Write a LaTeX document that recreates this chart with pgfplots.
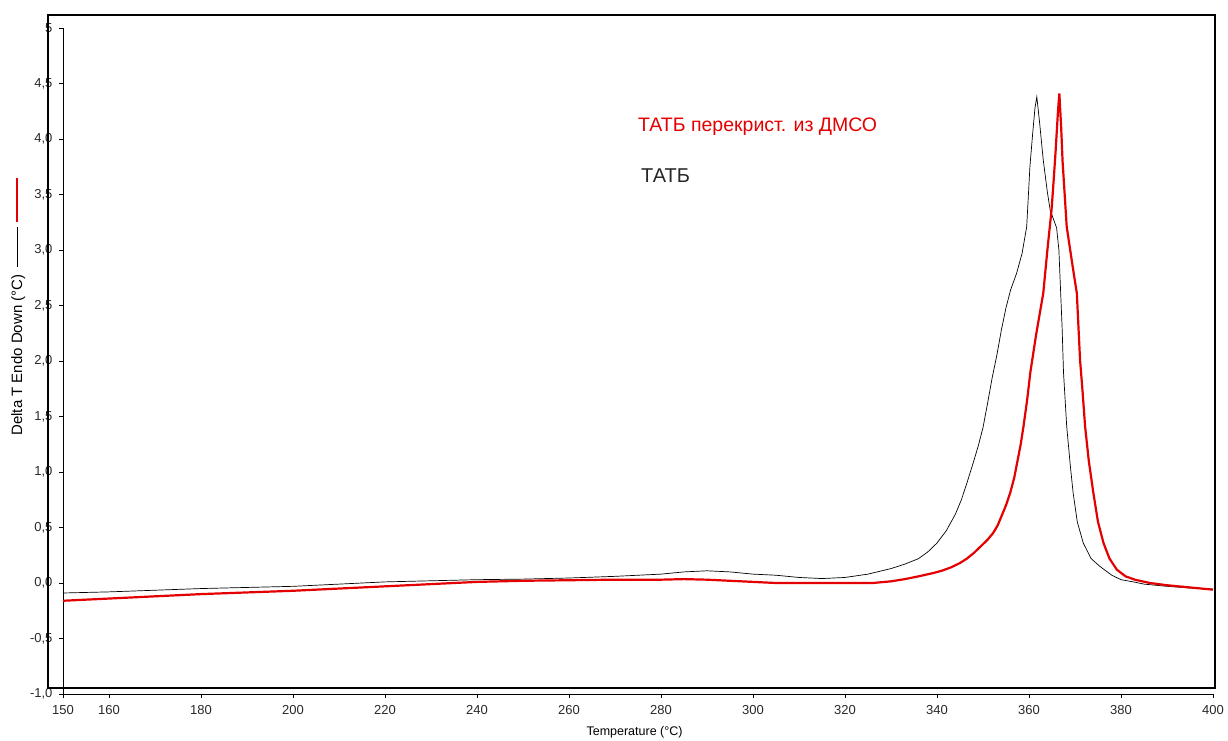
\documentclass[border=0pt]{standalone}
\usepackage{pgfplots}
\pgfplotsset{compat=1.18}
\usepackage{fontspec}
\setmainfont{Liberation Sans}
\definecolor{dscred}{RGB}{228,0,0}
\definecolor{tickgray}{RGB}{40,40,40}
\begin{document}
\begin{tikzpicture}
\path[use as bounding box] (0pt,0pt) rectangle (1228pt,740pt);
\begin{axis}[
  at={(63pt,46pt)}, anchor=south west,
  scale only axis, width=1150pt, height=666pt,
  xmin=150, xmax=400, ymin=-1, ymax=5,
  axis x line=bottom, axis y line=left,
  axis line style={-, line width=0.8pt},
  tick align=outside, major tick length=4pt,
  tick style={black, line width=0.8pt},
  xtick={150,160,180,200,220,240,260,280,300,320,340,360,380,400},
  ytick={-1,-0.5,0,0.5,1,1.5,2,2.5,3,3.5,4,4.5,5},
  yticklabels={{-1,0},{-0,5},{0,0},{0,5},{1,0},{1,5},{2,0},{2,5},{3,0},{3,5},{4,0},{4,5},5},
  xticklabels={150,160,180,200,220,240,260,280,300,320,340,360,380,400},
  tick label style={font=\fontsize{13}{15}\selectfont, text=tickgray},
  xticklabel style={yshift=-4pt},
  yticklabel style={xshift=-3pt},
  xlabel={Temperature (°C)},
  xlabel style={font=\fontsize{12.5}{14}\selectfont, at={(axis description cs:0.497,0)}, anchor=north, yshift=-29pt},
  ylabel={Delta T Endo Down (°C)},
  ylabel style={font=\fontsize{15}{17}\selectfont, at={(axis description cs:-0.039,0.509)}, anchor=center},
  clip=false,
]
\addplot[black, line width=0.7pt] coordinates {
(150,-0.09) (160,-0.08) (170,-0.065) (180,-0.05) (190,-0.04) (200,-0.03)
(210,-0.01) (220,0.01) (230,0.02) (240,0.03) (250,0.035) (260,0.045)
(270,0.06) (280,0.08) (285,0.1) (290,0.11) (295,0.1) (300,0.08)
(305,0.07) (310,0.05) (315,0.04) (320,0.05) (325,0.08) (330,0.13)
(333,0.17) (336,0.22) (338,0.28) (340,0.36) (342,0.47) (344,0.62) (345.3,0.75) (346.5,0.9)
(348,1.1) (349,1.24) (350,1.4) (351,1.62) (352,1.85) (353,2.05) (354,2.28) (355,2.48) (356,2.64) (357.3,2.79)
(358.5,2.97) (359.5,3.21) (360.2,3.75) (360.8,4.05) (361.3,4.28) (361.7,4.38) (362.3,4.15) (363.1,3.81) (364.0,3.52) (364.6,3.36) (365.3,3.28)
(366.0,3.2) (366.5,3.0) (366.8,2.7) (367.2,2.3) (367.5,1.9) (368.2,1.41)
(369.0,1.05) (369.6,0.81) (370.5,0.55) (371.8,0.36) (373.5,0.22) (375.4,0.15) (378,0.07)
(380,0.03) (382.7,0.01) (385,-0.01) (390,-0.03) (395,-0.045) (400,-0.055)
};
\addplot[dscred, line width=2.2pt] coordinates {
(150,-0.16) (160,-0.14) (170,-0.12) (180,-0.10) (190,-0.085) (200,-0.07)
(210,-0.05) (220,-0.03) (230,-0.01) (240,0.01) (250,0.02) (260,0.025)
(270,0.03) (280,0.03) (285,0.035) (290,0.03) (295,0.02) (300,0.01)
(305,0.0) (310,0.0) (320,0.0) (326,0.0) (330,0.015) (333,0.035)
(336,0.06) (339.2,0.09) (341,0.11) (343,0.14) (345,0.18) (346.5,0.22) (348,0.27) (349.5,0.33) (351,0.39) (352.2,0.45)
(353.2,0.52) (354,0.6) (355,0.7) (355.9,0.81) (356.8,0.95) (357.5,1.1) (358.2,1.25) (358.8,1.41) (359.6,1.65) (360.3,1.9) (361.6,2.25)
(363.1,2.61) (364.0,3.0) (364.9,3.36) (365.4,3.65) (365.8,3.9) (366.3,4.25) (366.6,4.41) (367.0,4.1) (367.3,3.8)
(368.2,3.21) (369.5,2.85) (370.4,2.61) (371.1,2.01) (371.6,1.75) (372.2,1.41)
(373,1.1) (374,0.81) (375,0.55) (376.2,0.36) (377.5,0.22) (379.1,0.12)
(381,0.06) (383,0.03) (386.3,0.0) (390,-0.02) (395,-0.04) (400,-0.06)
};
\end{axis}
% outer frame
\draw[line width=2.2pt] (48pt,52pt) rectangle (1215pt,725pt);
% series keys beside the y label
\draw[black, line width=0.8pt] (17pt,473pt) -- (17pt,513pt);
\draw[dscred, line width=2.4pt] (17pt,518pt) -- (17pt,562pt);
% annotations
\node[anchor=west, inner sep=0pt, text=dscred, font=\fontsize{19.5}{21}\selectfont] at (638pt,613pt) {ТАТБ перекрист. из ДМСО};
\node[anchor=west, inner sep=0pt, text=black!85, font=\fontsize{20}{22}\selectfont] at (641pt,564pt) {ТАТБ};
\end{tikzpicture}
\end{document}
